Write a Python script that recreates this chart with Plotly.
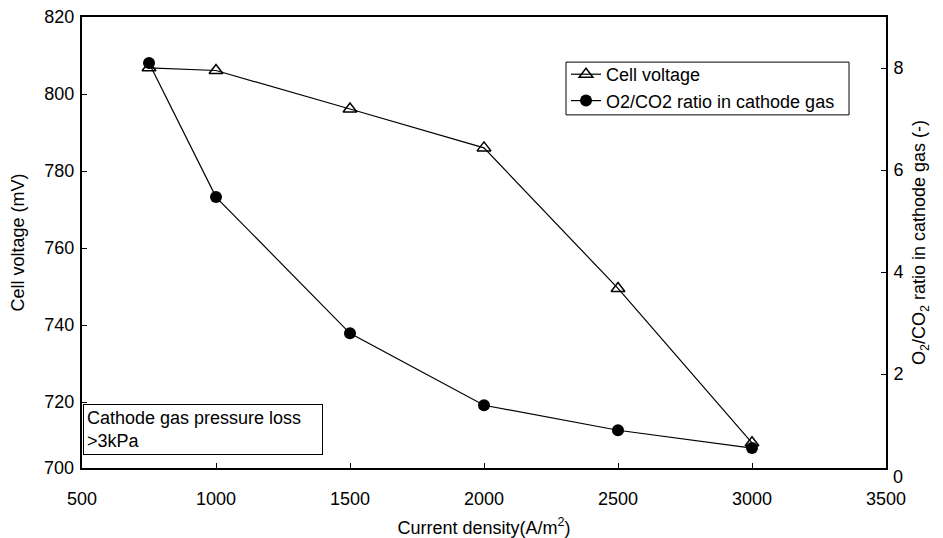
import plotly.graph_objects as go

current_density = [750, 1000, 1500, 2000, 2500, 3000]
cell_voltage = [806.8, 806.1, 796.1, 786.0, 749.5, 709.4]
o2_co2_ratio = [8.10, 5.47, 2.80, 1.39, 0.90, 0.55]

x_ticks = [500, 1000, 1500, 2000, 2500, 3000, 3500]
y_ticks = [720, 740, 760, 780, 800, 820]
y2_ticks = [2, 4, 6, 8]

FONT = "Liberation Sans, Arial, sans-serif"
FS = 18

fig = go.Figure()
fig.add_trace(go.Scatter(
    x=current_density, y=cell_voltage, name="Cell voltage",
    mode="lines+markers",
    line=dict(color="black", width=1.2),
    marker=dict(symbol="triangle-up-open", size=12, color="black", line=dict(width=1.5)),
))
fig.add_trace(go.Scatter(
    x=current_density, y=o2_co2_ratio, name="O2/CO2 ratio in cathode gas",
    mode="lines+markers", yaxis="y2",
    line=dict(color="black", width=1.2),
    marker=dict(symbol="circle", size=12, color="black"),
))

axis_common = dict(
    showgrid=False, zeroline=False, showline=True, linecolor="black", linewidth=2,
    ticks="inside", ticklen=5, tickwidth=1, tickcolor="black", automargin=False,
    ticklabeloverflow="allow",
    tickfont=dict(family=FONT, size=FS, color="black"),
)

fig.update_layout(
    width=935, height=530,
    paper_bgcolor="white", plot_bgcolor="white",
    margin=dict(l=74, r=57, t=9, b=70),
    font=dict(family=FONT, size=FS, color="black"),
    xaxis=dict(range=[500, 3500], tickvals=x_ticks, mirror=True, ticklabelstandoff=13,
               title=dict(text="Current density(A/m<sup>2</sup>)", standoff=15,
                          font=dict(family=FONT, size=FS)),
               **axis_common),
    yaxis=dict(range=[702.86, 820], tickvals=y_ticks, ticklabelstandoff=2,
               title=dict(text="Cell voltage (mV)", standoff=16,
                          font=dict(family=FONT, size=FS)),
               **axis_common),
    yaxis2=dict(range=[0.16, 9.0], tickvals=y2_ticks, overlaying="y", side="right",
                ticklabelstandoff=2,
                title=dict(text="O<sub>2</sub>/CO<sub>2</sub> ratio in cathode gas (-)",
                           standoff=10, font=dict(family=FONT, size=FS)),
                **axis_common),
    showlegend=True,
    legend=dict(x=0.602, y=0.9135, xanchor="left", yanchor="top",
                borderwidth=0, bgcolor="rgba(0,0,0,0)",
                font=dict(family=FONT, size=FS), itemwidth=30,
                tracegroupgap=0),
)

# Legend frame
fig.add_shape(type="rect", xref="paper", yref="paper", x0=0.602, x1=0.954, y0=0.783, y1=0.900,
              line=dict(color="black", width=1), fillcolor="white", layer="above")

fig.add_annotation(
    xref="paper", yref="paper", x=0.001, y=0.142, xanchor="left", yanchor="top",
    text="Cathode gas pressure loss<br>>3kPa", align="left", showarrow=False,
    bordercolor="black", borderwidth=1, borderpad=3, bgcolor="white",
    font=dict(family=FONT, size=FS), width=232,
)
# Bottom tick labels that sit just below the plotted ranges
fig.add_annotation(xref="paper", yref="paper", x=0, y=0.0, xanchor="right", yanchor="middle",
                   xshift=-6, text="700", showarrow=False, font=dict(family=FONT, size=FS))
fig.add_annotation(xref="paper", yref="paper", x=1, y=-0.02, xanchor="left", yanchor="middle",
                   xshift=5, text="0", showarrow=False, font=dict(family=FONT, size=FS))

fig.write_html("out.html")
